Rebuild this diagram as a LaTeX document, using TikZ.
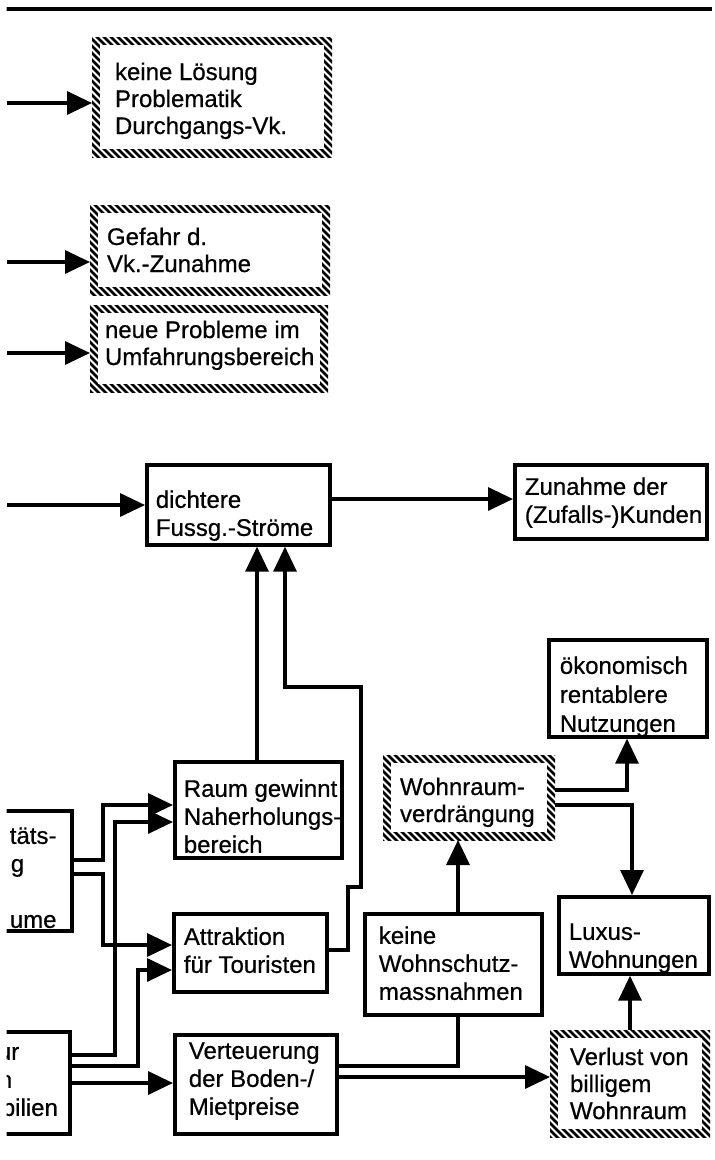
\documentclass[tikz,border=0pt]{standalone}
\usepackage{fontspec}
\setmainfont{Liberation Sans}[FakeBold=0.6]
\usetikzlibrary{arrows.meta,calc}
\pgfdeclarelayer{background}
\pgfsetlayers{background,main}

\tikzset{
  box/.style={draw, line width=3.7pt, font=\fontsize{24}{28}\selectfont},
  hbox/.style={draw=none, outer sep=0pt, font=\fontsize{24}{27}\selectfont},
  conn/.style={line width=3.4pt},
  arr/.style={conn, -{Triangle[length=25pt,width=23pt]}},
  hatchline/.style={line width=2.5pt},
  rulestyle/.style={line width=3.6pt},
}

% #1 style, #2 name, #3 x1, #4 y1, #5 x2, #6 y2, #7 text left x, #8 first baseline, #9 lines
\newcommand\bx[9]{%
  \pgfmathsetmacro\bxs{#7-#3}%
  \pgfmathsetmacro\bxw{(#5-#3)-2*(#7-#3)}%
  \pgfmathsetmacro\bxh{#8-#4}%
  \pgfmathsetmacro\bxd{#6-#8}%
  \node[#1, anchor=north west, inner xsep=\bxs pt, inner ysep=0pt,
        text height=\bxh pt, text depth=\bxd pt,
        minimum width=0pt, minimum height=0pt] (#2) at (#3,#4)
     {\makebox[\bxw pt][l]{\begin{tabular}[t]{@{}l@{}}#9\end{tabular}}};%
}

\newcommand\hatch[1]{%
  \begin{pgfonlayer}{background}
    \begin{scope}
      \clip (#1.north west) rectangle (#1.south east);
      \foreach \k in {-140,-133,...,260}
        \draw[hatchline] ($(#1.north west)+(\k,-5)$) -- ++(140,140);
    \end{scope}
    \fill[white] ($(#1.north west)+(8,8)$) rectangle ($(#1.south east)+(-8,-8)$);
  \end{pgfonlayer}%
}

\begin{document}
\begin{tikzpicture}[x=1pt,y=-1pt]
\useasboundingbox (0,0) rectangle (715,1160);
\clip (6.5,0) rectangle (715,1160);

\draw[rulestyle] (5,9) -- (712,9);

% hatched boxes
\bx{hbox}{kl}{92}{37}{332}{157}{115}{80}{keine Lösung\\Problematik\\Durchgangs-Vk.}
\hatch{kl}
\bx{hbox}{gef}{90}{205}{330}{295}{107}{245}{Gefahr d.\\Vk.-Zunahme}
\hatch{gef}
\bx{hbox}{neu}{90}{305}{328}{392}{105}{338}{neue Probleme im\\Umfahrungsbereich}
\hatch{neu}
\bx{hbox}{wohn}{383}{755}{555}{840}{400}{795}{Wohnraum-\\verdrängung}
\hatch{wohn}
\bx{hbox}{verl}{550}{1030}{710}{1137}{570}{1065}{Verlust von\\billigem\\Wohnraum}
\hatch{verl}

% framed boxes
\bx{box}{dic}{145}{463}{328}{543}{154}{506}{dichtere\\Fussg.-Ströme}
\bx{box}{zun}{513}{463}{705}{537}{523}{493}{Zunahme der\\(Zufalls-)Kunden}
\bx{box,font=\fontsize{24}{29}\selectfont}{oko}{547}{638}{705}{735}{558}{672}{ökonomisch\\rentablere\\Nutzungen}
\bx{box}{raum}{173}{760}{340}{856}{182}{795}{Raum gewinnt\\Naherholungs-\\bereich}
\bx{box}{att}{172}{912}{325}{990}{182}{943}{Attraktion\\für Touristen}
\bx{box}{kws}{363}{912}{540}{1013}{377}{942}{keine\\Wohnschutz-\\massnahmen}
\bx{box}{lux}{557}{895}{707}{972}{567}{938}{Luxus-\\Wohnungen}
\bx{box}{ver}{173}{1033}{335}{1132}{187}{1057}{Verteuerung\\der Boden-/\\Mietpreise}
\bx{box}{lf1}{-30}{809}{70}{929}{8}{842}{täts-\\\hspace*{1pt}g\\ \\ume}
\bx{box}{lf2}{-30}{1030}{68}{1132}{2}{1058}{\hspace*{-6pt}ur\\\hspace*{-5pt}n\\\hspace*{-2pt}bilien}

% free ends on the left edge
\coordinate (s1) at (7,103);
\coordinate (s2) at (7,262);
\coordinate (s3) at (7,353);
\coordinate (s4) at (7,505);

% connectors
\draw[arr] (s1) -- (s1 -| kl.west);
\draw[arr] (s2) -- (s2 -| gef.west);
\draw[arr] (s3) -- (s3 -| neu.west);
\draw[arr] (s4) -- (s4 -| dic.west);
\draw[arr] (dic.east |- 0,499) -- (zun.west |- 0,499);
\draw[arr] (raum.north -| 257,0) -- (dic.south -| 257,0);
\draw[arr] (att.east |- 0,950) -- (348,950) -- (348,887) -- (361,887) -- (361,687) -- (285,687) -- (dic.south -| 285,0);
\draw[arr] (lf1.east |- 0,860) -- (103,860) -- (103,805) -- (raum.west |- 0,805);
\draw[arr] (lf1.east |- 0,874) -- (103,874) -- (103,945) -- (att.west |- 0,945);
\draw[arr] (lf2.east |- 0,1055) -- (115,1055) -- (115,822) -- (raum.west |- 0,822);
\draw[arr] (lf2.east |- 0,1066) -- (138,1066) -- (138,970) -- (att.west |- 0,970);
\draw[arr] (lf2.east |- 0,1083) -- (ver.west |- 0,1083);
\draw[conn] (ver.east |- 0,1066) -- (458,1066) -- (kws.south -| 458,0);
\draw[arr] (ver.east |- 0,1077) -- (verl.west |- 0,1077);
\draw[arr] (kws.north -| 458,0) -- (wohn.south -| 458,0);
\draw[arr] (wohn.east |- 0,790) -- (627,790) -- (oko.south -| 627,0);
\draw[arr] (wohn.east |- 0,805) -- (632,805) -- (lux.north -| 632,0);
\draw[arr] (verl.north -| 630,0) -- (lux.south -| 630,0);
\end{tikzpicture}
\end{document}
